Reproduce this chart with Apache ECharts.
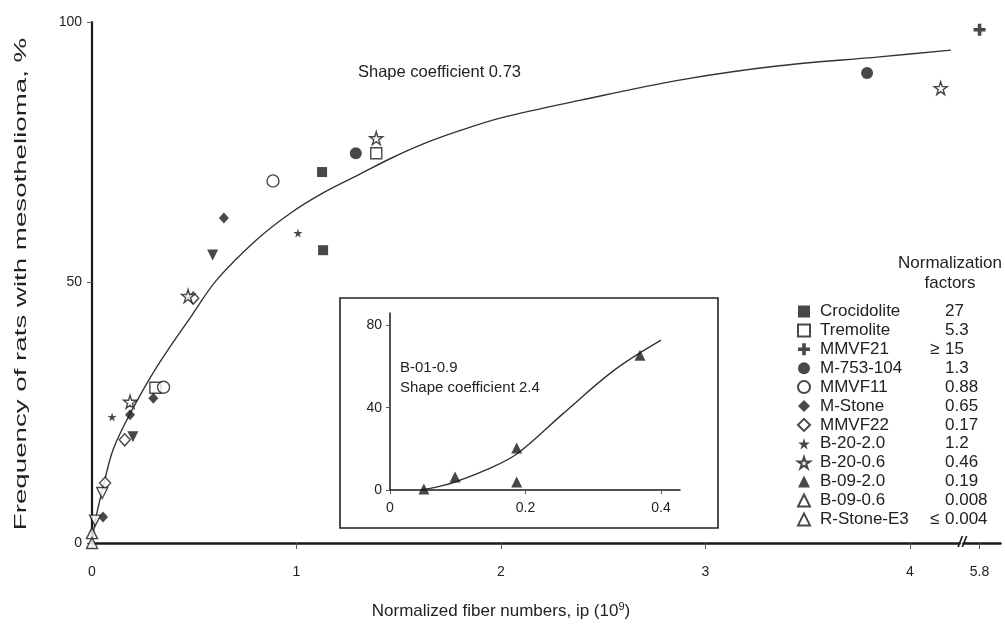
<!DOCTYPE html>
<html>
<head>
<meta charset="utf-8">
<script src="https://cdn.jsdelivr.net/npm/echarts@6.0.0/dist/echarts.min.js"></script>
<style>
  html, body { margin: 0; padding: 0; background: #fff; }
  #chart { width: 1005px; height: 624px; }
</style>
</head>
<body>
<div id="chart"></div>
<script>
// tick labels
var xTicks = [0, 1, 2, 3, 4, 5.8];
var yTicks = [0, 50, 100];
var insetXTicks = [0, 0.2, 0.4];
var insetYTicks = [0, 40, 80];

// legend: fiber types and normalization factors
var fiberNames = ['Crocidolite', 'Tremolite', 'MMVF21', 'M-753-104', 'MMVF11', 'M-Stone',
    'MMVF22', 'B-20-2.0', 'B-20-0.6', 'B-09-2.0', 'B-09-0.6', 'R-Stone-E3'];
var normPrefix = ['', '', '≥ ', '', '', '', '', '', '', '', '', '≤ '];
var normFactors = ['27', '5.3', '15', '1.3', '0.88', '0.65', '0.17', '1.2', '0.46', '0.19', '0.008', '0.004'];

// [normalized fiber number, % rats with mesothelioma]
var crocidolite = [[1.125, 71.2], [1.13, 56.2]];
var tremolite = [[1.39, 74.8], [0.31, 29.8]];
var mmvf21 = [[5.8, 98.5]];
var m753 = [[1.29, 74.8], [3.79, 90.2]];
var mmvf11 = [[0.885, 69.5], [0.35, 29.9]];
var mStone = [[0.645, 62.4], [0.30, 27.8], [0.186, 24.6], [0.054, 5.0]];
var mmvf22 = [[0.495, 47.0], [0.16, 19.8], [0.064, 11.5]];
var b20_20 = [[1.007, 59.5], [0.098, 24.2]];
var b20_06 = [[1.39, 77.7], [4.15, 87.3], [0.186, 27.1], [0.47, 47.4]];
var b09_20 = [[0.59, 55.3], [0.20, 20.4]];
var b09_06 = [[0.05, 9.6], [0.015, 4.3]];
var rStone = [[0, 1.9], [0, 0]];

// fitted curve, shape coefficient 0.73
var fitCurve = [[0, 0], [0.02, 5.0], [0.054, 10.7], [0.103, 17.9], [0.186, 24.8], [0.32, 34.0],
    [0.49, 43.8], [0.61, 50.5], [0.805, 58.2], [0.97, 63.3], [1.13, 67.2],
    [1.30, 70.6], [1.46, 73.8], [1.62, 76.6], [1.78, 78.9], [2.0, 81.6], [2.39, 85.0],
    [2.88, 88.9], [3.36, 91.6], [3.85, 93.3], [4.20, 94.6]];

// inset: B-01-0.9
var insetPoints = [[0.05, 0.5], [0.096, 6.3], [0.187, 20.4], [0.187, 3.9], [0.369, 65.5]];
var insetCurve = [[0.044, 0], [0.07, 1.5], [0.096, 3.9], [0.14, 9.5], [0.187, 17.5],
    [0.255, 37], [0.33, 58], [0.4, 72.8]];

var STAR = 'path://M50,0 L61,35 L98,35 L68,57 L79,91 L50,70 L21,91 L32,57 L2,35 L39,35 Z';
var PLUS = 'path://M35,0 H65 V35 H100 V65 H65 V100 H35 V65 H0 V35 H35 Z';
var FONT = 'Liberation Sans, Arial, sans-serif';
var INK = '#1a1a1a';

function pts(name, data, symbol, filled, size, rotate) {
    return {
        name: name,
        type: 'scatter',
        data: data,
        symbol: symbol,
        symbolSize: size,
        symbolRotate: rotate || 0,
        itemStyle: {
            color: filled ? INK : '#fff',
            borderColor: INK,
            borderWidth: filled ? 0 : 1.4
        },
        z: 3
    };
}

var chart = echarts.init(document.getElementById('chart'));

var option = {
    backgroundColor: '#fff',
    animation: false,
    textStyle: { fontFamily: FONT },
    grid: [
        { left: 92, top: 22, width: 908, height: 521 },
        { left: 390, top: 313, width: 290, height: 177 }
    ],
    xAxis: [{
        type: 'value',
        gridIndex: 0,
        min: 0,
        max: 5.9,
        breaks: [{ start: 4.24, end: 5.72, gap: 0.02 }],
        breakArea: { show: false },
        splitLine: { show: false },
        axisLine: { lineStyle: { color: INK, width: 2.5 } },
        axisTick: { customValues: xTicks, length: 6, lineStyle: { color: '#555', width: 1 } },
        axisLabel: {
            customValues: xTicks, margin: 22, color: '#222', fontSize: 14, fontFamily: FONT
        }
    }, {
        type: 'value',
        gridIndex: 1,
        min: 0,
        max: 0.428,
        splitLine: { show: false },
        axisLine: { lineStyle: { color: INK, width: 1.5 } },
        axisTick: { customValues: insetXTicks, length: 4, lineStyle: { color: '#555' } },
        axisLabel: {
            customValues: insetXTicks, margin: 11, color: '#222', fontSize: 14, fontFamily: FONT,
            formatter: function (v) { return v === 0 ? '0' : v.toFixed(1); }
        }
    }],
    yAxis: [{
        type: 'value',
        gridIndex: 0,
        min: 0,
        max: 100,
        interval: 50,
        splitLine: { show: false },
        axisLine: { show: true, lineStyle: { color: INK, width: 2.2 } },
        axisTick: { show: true, length: 5, lineStyle: { color: '#555' } },
        axisLabel: { margin: 10, color: '#222', fontSize: 14, fontFamily: FONT }
    }, {
        type: 'value',
        gridIndex: 1,
        min: 0,
        max: 86,
        splitLine: { show: false },
        axisLine: { show: true, lineStyle: { color: INK, width: 1.5 } },
        axisTick: { show: true, customValues: insetYTicks, length: 4, lineStyle: { color: '#555' } },
        axisLabel: { customValues: insetYTicks, margin: 8, color: '#222', fontSize: 14, fontFamily: FONT }
    }],
    legend: {
        data: fiberNames,
        orient: 'vertical',
        left: 792,
        top: 298,
        itemWidth: 12,
        itemHeight: 12,
        itemGap: 1.9,
        selectedMode: false,
        formatter: function (name) {
            var i = fiberNames.indexOf(name);
            return '{g| }{n|' + name + '}{p|' + normPrefix[i] + '}{v|' + normFactors[i] + '}';
        },
        textStyle: {
            fontFamily: FONT,
            fontSize: 17,
            lineHeight: 17,
            color: '#222',
            rich: {
                g: { width: 5, fontSize: 17, lineHeight: 17, fontFamily: FONT },
                n: { width: 110, fontSize: 17, lineHeight: 17, fontFamily: FONT, color: '#222' },
                p: { width: 15, fontSize: 17, lineHeight: 17, fontFamily: FONT, color: '#222' },
                v: { fontSize: 17, lineHeight: 17, fontFamily: FONT, color: '#222' }
            }
        }
    },
    series: [
        pts('Crocidolite', crocidolite, 'rect', true, 10),
        pts('Tremolite', tremolite, 'rect', false, 11),
        pts('MMVF21', mmvf21, PLUS, true, 12),
        pts('M-753-104', m753, 'circle', true, 12),
        pts('MMVF11', mmvf11, 'circle', false, 12),
        pts('M-Stone', mStone, 'diamond', true, [10, 11]),
        pts('MMVF22', mmvf22, 'diamond', false, [11, 12]),
        pts('B-20-2.0', b20_20, STAR, true, 9),
        pts('B-20-0.6', b20_06, STAR, false, 13),
        pts('B-09-2.0', b09_20, 'triangle', true, 11, 180),
        pts('B-09-0.6', b09_06, 'triangle', false, 11, 180),
        pts('R-Stone-E3', rStone, 'triangle', false, 11),
        {
            name: 'fit',
            type: 'line',
            data: fitCurve,
            smooth: 0.35,
            showSymbol: false,
            lineStyle: { color: '#333', width: 1.4 },
            z: 2
        },
        {
            name: 'B-01-0.9',
            type: 'scatter',
            xAxisIndex: 1,
            yAxisIndex: 1,
            data: insetPoints,
            symbol: 'triangle',
            symbolSize: 11,
            itemStyle: { color: INK },
            z: 3
        },
        {
            name: 'inset fit',
            type: 'line',
            xAxisIndex: 1,
            yAxisIndex: 1,
            data: insetCurve,
            smooth: 0.35,
            showSymbol: false,
            lineStyle: { color: '#333', width: 1.4 },
            z: 2
        }
    ],
    graphic: [
        {
            type: 'rect',
            shape: { x: 340, y: 298, width: 378, height: 230 },
            style: { fill: 'none', stroke: '#222', lineWidth: 1.6 },
            z: 1
        },
        {
            type: 'text', x: 358, y: 72,
            style: { text: 'Shape coefficient 0.73', font: '16.5px ' + FONT, fill: '#222', textVerticalAlign: 'middle' }
        },
        {
            type: 'text', x: 400, y: 368,
            style: { text: 'B-01-0.9', font: '15px ' + FONT, fill: '#222', textVerticalAlign: 'middle' }
        },
        {
            type: 'text', x: 400, y: 388,
            style: { text: 'Shape coefficient 2.4', font: '15px ' + FONT, fill: '#222', textVerticalAlign: 'middle' }
        },
        {
            type: 'text', x: 950, y: 263,
            style: { text: 'Normalization', font: '17px ' + FONT, fill: '#222', textAlign: 'center', textVerticalAlign: 'middle' }
        },
        {
            type: 'text', x: 950, y: 283,
            style: { text: 'factors', font: '17px ' + FONT, fill: '#222', textAlign: 'center', textVerticalAlign: 'middle' }
        },
        {
            type: 'text', x: 22, y: 284, rotation: Math.PI / 2, scaleX: 1.73,
            style: {
                text: 'Frequency of rats with mesothelioma, %', font: '16px ' + FONT, fill: '#222',
                textAlign: 'center', textVerticalAlign: 'middle'
            }
        },
        {
            type: 'text', x: 501, y: 611,
            style: {
                text: 'Normalized fiber numbers, ip (10{s|9})', font: '17px ' + FONT, fill: '#222',
                textAlign: 'center', textVerticalAlign: 'middle',
                rich: { s: { fontSize: 11, verticalAlign: 'top', padding: [0, 0, 8, 0], fill: '#222' } }
            }
        },
        {
            type: 'text', x: 962, y: 543,
            style: {
                text: '//', font: 'italic bold 15px ' + FONT, fill: INK,
                textAlign: 'center', textVerticalAlign: 'middle'
            }
        }
    ]
};

chart.setOption(option);
</script>
</body>
</html>
